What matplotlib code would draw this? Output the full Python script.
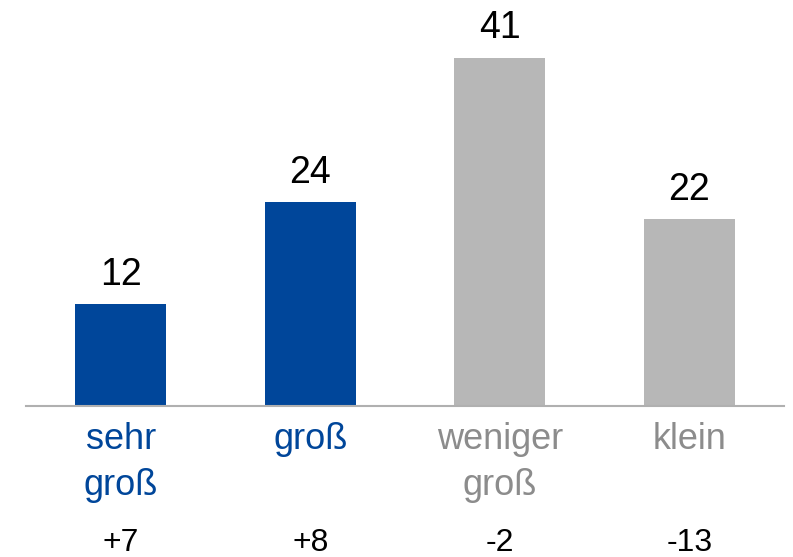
import matplotlib
matplotlib.use("Agg")
import matplotlib.pyplot as plt
from matplotlib.transforms import blended_transform_factory

categories = ["sehr\ngroß", "groß", "weniger\ngroß", "klein"]
values = [12, 24, 41, 22]
changes = ["+7", "+8", "-2", "-13"]

blue = "#00469a"
gray = "#b7b7b7"
gray_text = "#8c8c8c"
bar_colors = [blue, blue, gray, gray]
label_colors = [blue, blue, gray_text, gray_text]

plt.rcParams['font.family'] = ['Liberation Sans', 'DejaVu Sans']

W, H = 793, 557
fig = plt.figure(figsize=(W / 100, H / 100), dpi=100)
ax = fig.add_axes([26 / W, (H - 406) / H, 758 / W, 406 / H])

x = list(range(len(categories)))
ax.bar(x, values, width=0.48, color=bar_colors, zorder=2)
ax.set_xlim(-0.5, 3.5)
ax.set_ylim(0, 406 / 8.5)

for s in ["top", "right", "left"]:
    ax.spines[s].set_visible(False)
ax.spines["bottom"].set_color("#b0b0b0")
ax.spines["bottom"].set_linewidth(1.5)
ax.set_xticks([])
ax.set_yticks([])

for xi, v in zip(x, values):
    ax.annotate(str(v), (xi, v), xytext=(0, 14), textcoords="offset points",
                ha="center", va="baseline", fontsize=27, color="black")

tr = blended_transform_factory(ax.transData, fig.transFigure)
line_base = [(H - 449) / H, (H - 495) / H]
for xi, cat, col in zip(x, categories, label_colors):
    for li, line in enumerate(cat.split("\n")):
        ax.text(xi, line_base[li], line, transform=tr, ha="center", va="baseline",
                fontsize=26, color=col)

for xi, c in zip(x, changes):
    ax.text(xi, (H - 551) / H, c, transform=tr, ha="center", va="baseline",
            fontsize=23, color="black")

fig.savefig("out.png", dpi=100)
